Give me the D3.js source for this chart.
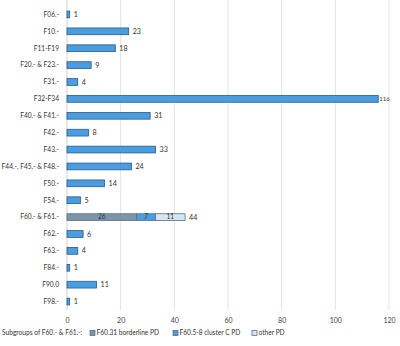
<!DOCTYPE html>
<html>
<head>
<meta charset="utf-8">
<script src="https://cdn.jsdelivr.net/npm/d3@7"></script>
<style>
  body { margin: 0; background: #fff; }
  svg { font-family: Lato, "Open Sans", sans-serif; }
</style>
</head>
<body>
<div id="chart"></div>
<script>
const categories = ["F06.-", "F10.-", "F11-F19", "F20.- & F23.-", "F31.-", "F32-F34",
    "F40.- & F41.-", "F42.-", "F43.-", "F44.-, F45.- & F48.-", "F50.-", "F54.-",
    "F60.- & F61.-", "F62.-", "F63.-", "F84.-", "F90.0", "F98.-"];
const totals = [1, 23, 18, 9, 4, 116, 31, 8, 33, 24, 14, 5, 44, 6, 4, 1, 11, 1];

// subgroups of the F60/F61 bar
const subCategory = "F60.- & F61.-";
const subNames = ["F60.31  borderline PD", "F60.5-8 cluster C PD", "other PD"];
const subValues = [26, 7, 11];
const subColors = ["#7d95aa", "#4a9de0", "#d5e5f3"];

const xTicks = [0, 20, 40, 60, 80, 100, 120];

const W = 400, H = 346;
const margin = {top: 6, right: 11, bottom: 37, left: 67};

const svg = d3.select("#chart").append("svg")
    .attr("width", W).attr("height", H);
const g = svg.append("g")
    .attr("transform", "translate(" + margin.left + "," + margin.top + ")");

const x = d3.scaleLinear().domain([0, 120]).range([0, 322]);
const y = d3.scaleBand().domain(categories).range([0, 304]).paddingInner(0.6).paddingOuter(0.3);

const fs = 6.6;

// gridlines
g.selectAll(".grid").data(xTicks).enter().append("line")
    .attr("x1", d => x(d)).attr("x2", d => x(d))
    .attr("y1", -6).attr("y2", 304)
    .attr("stroke", d => d === 0 ? "#d0d0d0" : "#e3e3e3")
    .attr("stroke-width", 1);

// plain bars
const plain = categories.map((c, i) => ({c: c, v: totals[i]})).filter(d => d.c !== subCategory);
g.selectAll(".bar").data(plain).enter().append("rect")
    .attr("x", x(0))
    .attr("y", d => y(d.c))
    .attr("width", d => x(d.v) - x(0))
    .attr("height", y.bandwidth())
    .attr("fill", "#4a9de0")
    .attr("stroke", "#2d5a80")
    .attr("stroke-width", 0.8);

// stacked bar
let acc = 0;
const stacked = subValues.map((v, i) => {
    const s = {x0: acc, x1: acc + v, v: v, color: subColors[i]};
    acc += v;
    return s;
});
g.selectAll(".seg").data(stacked).enter().append("rect")
    .attr("x", d => x(d.x0))
    .attr("y", y(subCategory))
    .attr("width", d => x(d.x1) - x(d.x0))
    .attr("height", y.bandwidth())
    .attr("fill", d => d.color)
    .attr("stroke", "#5b6f80")
    .attr("stroke-width", 0.8);
g.selectAll(".segLabel").data(stacked).enter().append("text")
    .attr("x", d => (x(d.x0) + x(d.x1)) / 2)
    .attr("y", y(subCategory) + y.bandwidth() / 2)
    .attr("dy", "0.35em")
    .attr("text-anchor", "middle")
    .attr("font-size", fs)
    .attr("fill", "#333")
    .text(d => d.v);

// value labels
g.selectAll(".val").data(categories).enter().append("text")
    .attr("x", (d, i) => x(totals[i]) + (totals[i] > 100 ? 1 : 4))
    .attr("y", d => y(d) + y.bandwidth() / 2)
    .attr("dy", "0.35em")
    .attr("font-size", (d, i) => totals[i] > 100 ? 6 : 7.2)
    .attr("fill", "#333")
    .text((d, i) => totals[i]);

// category labels
g.selectAll(".cat").data(categories).enter().append("text")
    .attr("x", -8)
    .attr("y", d => y(d) + y.bandwidth() / 2)
    .attr("dy", "0.35em")
    .attr("text-anchor", "end")
    .attr("font-size", fs)
    .attr("fill", "#333")
    .text(d => d);

// x axis tick labels
const xAxis = g.append("g")
    .attr("transform", "translate(0,307)")
    .call(d3.axisBottom(x).tickValues(xTicks).tickSize(0).tickPadding(5));
xAxis.select(".domain").remove();
xAxis.selectAll("text").attr("font-size", 7).attr("fill", "#444")
    .attr("font-family", "Lato, 'Open Sans', sans-serif");

// legend
const legend = svg.append("g").attr("transform", "translate(0,333)");
legend.append("text")
    .attr("x", 2).attr("y", 0).attr("dy", "0.35em")
    .attr("font-size", fs).attr("fill", "#333")
    .text("Subgroups of F60.- & F61.-:");
const legX = [90, 173, 252];
const li = legend.selectAll(".li").data(subNames).enter().append("g")
    .attr("transform", (d, i) => "translate(" + legX[i] + ",0)");
li.append("rect")
    .attr("x", 0).attr("y", -2.5).attr("width", 5).attr("height", 5)
    .attr("fill", (d, i) => subColors[i])
    .attr("stroke", "#4d6275").attr("stroke-width", 0.7);
li.append("text")
    .attr("x", 6.5).attr("y", 0).attr("dy", "0.35em")
    .attr("font-size", fs).attr("fill", "#333")
    .text(d => d);
</script>
</body>
</html>
